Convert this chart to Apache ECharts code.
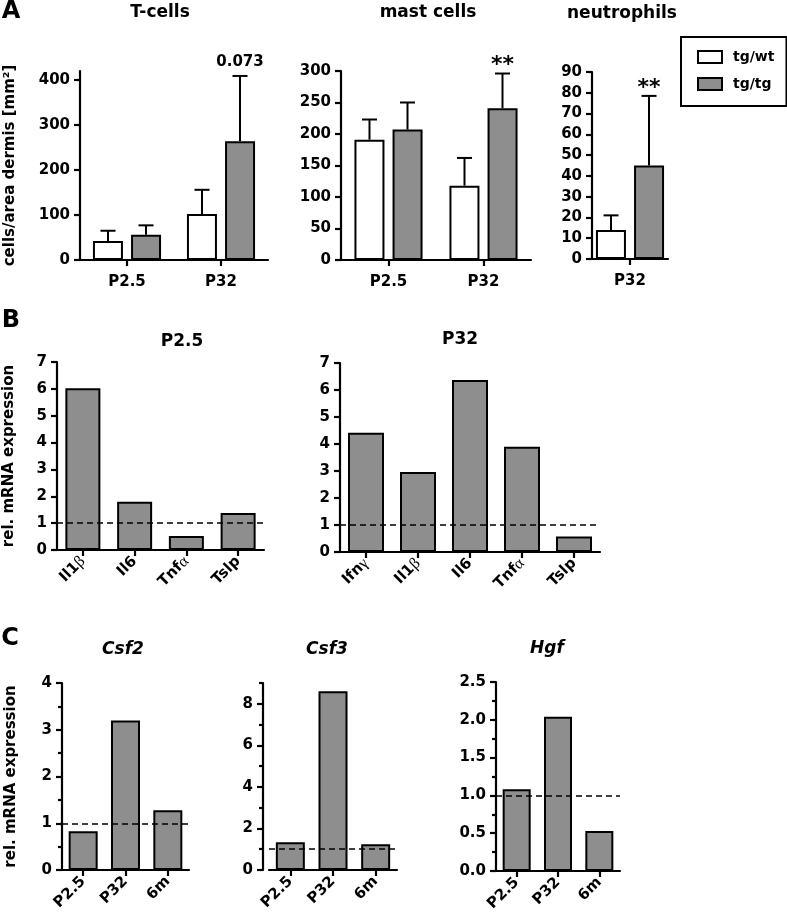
<!DOCTYPE html>
<html>
<head>
<meta charset="utf-8">
<script src="https://cdn.jsdelivr.net/npm/echarts@6/dist/echarts.min.js"></script>
<style>html,body{margin:0;padding:0;background:#fff}#c{width:787px;height:917px}</style>
</head>
<body>
<div id="c"></div>
<script>
// ---------- data ----------
const groupCats = ['P2.5', 'P32'];
const neutCats = ['P32'];
const tcellWt = [42, 102];
const tcellWtErr = [23, 54];
const tcellTg = [56, 264];
const tcellTgErr = [21, 145];
const tcellTgNote = ['', '0.073'];
const mastWt = [191, 118];
const mastWtErr = [32, 44];
const mastTg = [207, 241];
const mastTgErr = [43, 55];
const mastTgNote = ['', '**'];
const neutWt = [14];
const neutWtErr = [7];
const neutTg = [45];
const neutTgErr = [33.5];
const neutTgNote = ['**'];

const bP25Cats = ['Il1β', 'Il6', 'Tnfα', 'Tslp'];
const bP25Vals = [6.02, 1.8, 0.52, 1.38];
const bP32Cats = ['Ifnγ', 'Il1β', 'Il6', 'Tnfα', 'Tslp'];
const bP32Vals = [4.42, 2.96, 6.37, 3.9, 0.57];

const cCats = ['P2.5', 'P32', '6m'];
const csf2Vals = [0.83, 3.2, 1.28];
const csf3Vals = [1.34, 8.6, 1.24];
const hgfVals = [1.08, 2.04, 0.53];

const tcellTicks = [0, 100, 200, 300, 400];
const csf3Ticks = [0, 2, 4, 6, 8];
const csf3MinorTicks = [1, 3, 5, 7, 9];

// ---------- styles ----------
const F = 'DejaVu Sans';
const GRAY = '#8e8e8e';
const lineS = { color: '#000', width: 2.2 };

function greek(v) { return String(v).replace(/([αβγ])/g, '{g|$1}'); }

function xAx(gi, cats, rotate) {
  return {
    type: 'category', gridIndex: gi, data: cats,
    axisLine: { show: true, lineStyle: lineS },
    axisTick: { show: true, alignWithLabel: true, length: 6, lineStyle: lineS },
    axisLabel: {
      color: '#000', fontFamily: F, fontWeight: 'bold', fontSize: 15,
      margin: rotate ? 9 : 15, rotate: rotate || 0, interval: 0,
      formatter: greek,
      rich: { g: { fontFamily: 'Liberation Serif', fontWeight: 'normal', fontSize: 16, color: '#000' } }
    },
    splitLine: { show: false }
  };
}
function yAx(gi, max, interval, extra) {
  const o = {
    type: 'value', gridIndex: gi, min: 0, max: max, interval: interval,
    axisLine: { show: true, lineStyle: lineS },
    axisTick: { show: true, length: 6, lineStyle: lineS },
    axisLabel: { color: '#000', fontFamily: F, fontWeight: 'bold', fontSize: 15, margin: 10 },
    splitLine: { show: false }
  };
  return Object.assign(o, extra || {});
}
const yName = (name, gap) => ({
  name: name, nameLocation: 'middle', nameRotate: 90, nameGap: gap,
  nameTextStyle: { color: '#000', fontFamily: F, fontWeight: 'bold', fontSize: 15 }
});

function errRender(offset, notes) {
  return function (params, api) {
    const i = api.value(0), m = api.value(1), e = api.value(2);
    const p0 = api.coord([i, m]);
    const p1 = api.coord([i, m + e]);
    const x = p0[0] + offset;
    const ch = [
      { type: 'line', shape: { x1: x, y1: p0[1], x2: x, y2: p1[1] }, style: { stroke: '#000', lineWidth: 2 } },
      { type: 'line', shape: { x1: x - 7.5, y1: p1[1], x2: x + 7.5, y2: p1[1] }, style: { stroke: '#000', lineWidth: 2 } }
    ];
    const n = notes ? notes[params.dataIndex] : '';
    if (n) {
      const star = n.indexOf('*') >= 0;
      ch.push({
        type: 'text',
        style: {
          text: n, x: x, y: p1[1] - (star ? 8 : 14),
          align: 'center', verticalAlign: 'middle', textAlign: 'center', textVerticalAlign: 'middle',
          font: 'bold ' + (star ? 22 : 15) + 'px "DejaVu Sans"', fill: '#000'
        }
      });
    }
    return { type: 'group', children: ch };
  };
}

function groupSeries(gi, wt, wtErr, tg, tgErr, tgNotes) {
  const mk = (arr, err) => arr.map((v, i) => [i, v, err[i]]);
  return [
    { type: 'bar', name: 'tg/wt', xAxisIndex: gi, yAxisIndex: gi, data: wt, barWidth: 30, barGap: '27%',
      itemStyle: { color: '#fff', borderColor: '#000', borderWidth: 2 }, silent: true },
    { type: 'bar', name: 'tg/tg', xAxisIndex: gi, yAxisIndex: gi, data: tg, barWidth: 30, barGap: '27%',
      itemStyle: { color: GRAY, borderColor: '#000', borderWidth: 2 }, silent: true },
    { type: 'custom', xAxisIndex: gi, yAxisIndex: gi, data: mk(wt, wtErr), renderItem: errRender(-19, null), silent: true, z: 3 },
    { type: 'custom', xAxisIndex: gi, yAxisIndex: gi, data: mk(tg, tgErr), renderItem: errRender(19, tgNotes), silent: true, z: 3 }
  ];
}
function relSeries(gi, yi, vals, bw) {
  return {
    type: 'bar', xAxisIndex: gi, yAxisIndex: yi, data: vals, barWidth: bw, silent: true,
    itemStyle: { color: GRAY, borderColor: '#000', borderWidth: 2 },
    markLine: {
      silent: true, symbol: 'none', label: { show: false },
      lineStyle: { color: '#000', width: 1.6, type: [6, 4] },
      data: [{ yAxis: 1 }]
    }
  };
}

function txt(text, x, y, size, italic) {
  return {
    type: 'text',
    style: {
      text: text, x: x, y: y, fill: '#000',
      font: (italic ? 'italic ' : '') + 'bold ' + size + 'px "DejaVu Sans"',
      align: 'center', verticalAlign: 'middle', textAlign: 'center', textVerticalAlign: 'middle'
    }
  };
}

const chart = echarts.init(document.getElementById('c'));
const option = {
  backgroundColor: '#fff',
  animation: false,
  grid: [
    { left: 80, top: 71, width: 188, height: 189 },
    { left: 341, top: 71, width: 190, height: 189 },
    { left: 592, top: 72, width: 76, height: 187 },
    { left: 57, top: 362, width: 207, height: 188 },
    { left: 340, top: 363, width: 260, height: 189 },
    { left: 62, top: 683, width: 127, height: 187 },
    { left: 269, top: 683, width: 128, height: 187 },
    { left: 496, top: 682, width: 124, height: 189 }
  ],
  xAxis: [
    xAx(0, groupCats), xAx(1, groupCats), xAx(2, neutCats),
    xAx(3, bP25Cats, 45), xAx(4, bP32Cats, 45),
    xAx(5, cCats, 45), xAx(6, cCats, 45), xAx(7, cCats, 45)
  ],
  yAxis: [
    yAx(0, 420, 100, Object.assign({
      axisTick: { show: true, length: 6, lineStyle: lineS, customValues: tcellTicks },
      axisLabel: { color: '#000', fontFamily: F, fontWeight: 'bold', fontSize: 15, margin: 10, customValues: tcellTicks }
    }, yName('cells/area dermis [mm²]', 62))),
    yAx(1, 300, 50),
    yAx(2, 90, 10),
    yAx(3, 7, 1, yName('rel. mRNA expression', 40)),
    yAx(4, 7, 1),
    yAx(5, 4, 1, Object.assign({
      minorTick: { show: true, splitNumber: 2, length: 4, lineStyle: lineS }
    }, yName('rel. mRNA expression', 43))),
    yAx(6, 9, 2, {
      offset: 6,
      axisTick: { show: true, length: 6, lineStyle: lineS, customValues: csf3Ticks },
      axisLabel: { color: '#000', fontFamily: F, fontWeight: 'bold', fontSize: 15, margin: 10, customValues: csf3Ticks }
    }),
    yAx(7, 2.5, 0.5, {
      minorTick: { show: true, splitNumber: 2, length: 4, lineStyle: lineS },
      axisLabel: { color: '#000', fontFamily: F, fontWeight: 'bold', fontSize: 15, margin: 10, formatter: v => v.toFixed(1) }
    }),
    { type: 'value', gridIndex: 6, min: 0, max: 9, offset: 6, position: 'left',
      axisLine: { show: false }, axisLabel: { show: false }, splitLine: { show: false },
      axisTick: { show: true, length: 4, lineStyle: lineS, customValues: csf3MinorTicks } }
  ],
  legend: {
    left: 681, top: 37, orient: 'vertical', selectedMode: false,
    itemWidth: 24, itemHeight: 12, itemGap: 13,
    padding: [13, 12, 15, 16],
    borderColor: '#000', borderWidth: 2,
    textStyle: { color: '#000', fontFamily: F, fontWeight: 'bold', fontSize: 14, padding: [0, 0, 0, 6] },
    data: [
      { name: 'tg/wt', icon: 'rect', itemStyle: { color: '#fff', borderColor: '#000', borderWidth: 2 } },
      { name: 'tg/tg', icon: 'rect', itemStyle: { color: GRAY, borderColor: '#000', borderWidth: 2 } }
    ]
  },
  series: [].concat(
    groupSeries(0, tcellWt, tcellWtErr, tcellTg, tcellTgErr, tcellTgNote),
    groupSeries(1, mastWt, mastWtErr, mastTg, mastTgErr, mastTgNote),
    groupSeries(2, neutWt, neutWtErr, neutTg, neutTgErr, neutTgNote),
    [
      relSeries(3, 3, bP25Vals, 35),
      relSeries(4, 4, bP32Vals, 36),
      relSeries(5, 5, csf2Vals, 29),
      relSeries(6, 6, csf3Vals, 29),
      relSeries(7, 7, hgfVals, 28)
    ]
  ),
  graphic: [
    txt('A', 11, 12, 24), txt('B', 11, 321, 24), txt('C', 10, 639, 24),
    txt('T-cells', 160, 13, 17), txt('mast cells', 428, 13, 17), txt('neutrophils', 622, 14, 17),
    txt('P2.5', 182, 342, 17), txt('P32', 460, 340, 17),
    txt('Csf2', 123, 650, 17, true), txt('Csf3', 327, 650, 17, true), txt('Hgf', 547, 649, 17, true)
  ]
};
chart.setOption(option);
</script>
</body>
</html>
